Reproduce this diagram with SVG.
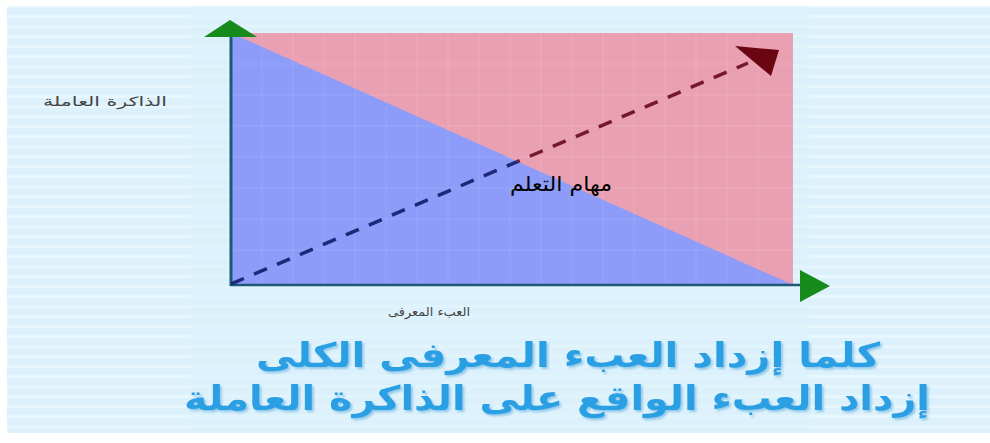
<svg xmlns="http://www.w3.org/2000/svg" width="990" height="443" viewBox="0 0 990 443">
<defs>
<style>
.ar{font-family:"DejaVu Sans","Noto Sans",sans-serif;}
.big{font-family:"DejaVu Sans","Noto Sans",sans-serif;font-weight:bold;font-size:34px;fill:#2b9fe3;filter:url(#shadow);}
.axis{stroke:#1f5877;stroke-width:3;fill:none;}
.grid{stroke:#ffffff;stroke-opacity:0.12;stroke-width:1;}
</style>
<filter id="shadow" x="-5%" y="-20%" width="110%" height="140%">
<feDropShadow dx="2" dy="2" stdDeviation="1" flood-color="#7fc0e6" flood-opacity="0.8"/>
</filter>
<pattern id="stripes" width="10" height="10" patternUnits="userSpaceOnUse">
<rect width="10" height="10" fill="#dcf1fb"/>
<rect y="5" width="10" height="3" fill="#e7f7fd"/>
</pattern>
<clipPath id="blueClip"><polygon points="231,33 793,285 231,285"/></clipPath>
<clipPath id="pinkClip"><polygon points="231,33 793,33 793,285"/></clipPath>
</defs>
<rect width="990" height="443" fill="#ffffff"/>
<rect x="7" y="6" width="983" height="427" fill="url(#stripes)"/>
<rect x="190" y="6" width="620" height="427" fill="#dcf1fb" opacity="0.6"/>

<g id="plot">
<rect x="231" y="33" width="562" height="252" fill="#eaa0b3"/>
<polygon points="231,33 793,285 231,285" fill="#8c9cf8"/>
<g class="grid">
<path d="M262 33V285M293 33V285M324 33V285M355 33V285M386 33V285M417 33V285M448 33V285M479 33V285M510 33V285M541 33V285M572 33V285M603 33V285M634 33V285M665 33V285M696 33V285M727 33V285M758 33V285"/>
<path d="M231 64H793M231 95H793M231 126H793M231 157H793M231 188H793M231 219H793M231 250H793"/>
</g>
</g>

<g id="connectors">
<g id="y-axis">
<line class="axis" x1="231" y1="36" x2="231" y2="286"/>
<polygon points="204,37 257,37 230,20" fill="#178a1c"/>
</g>
<g id="x-axis">
<line class="axis" x1="230" y1="285" x2="802" y2="285" style="stroke-width:2.5"/>
<polygon points="800,270 800,302 830,286" fill="#178a1c"/>
</g>
<g id="trend">
<line x1="231" y1="284" x2="748" y2="63" stroke="#1d2878" stroke-width="3.5" stroke-dasharray="14,11" clip-path="url(#blueClip)"/>
<line x1="231" y1="284" x2="748" y2="63" stroke="#741830" stroke-width="3.5" stroke-dasharray="14,11" clip-path="url(#pinkClip)"/>
<polygon points="735,46 779,50 771,76" fill="#6a0612"/>
</g>
</g>

<g id="label-tasks">
<text class="ar" x="612" y="191" font-size="20" fill="#000" text-anchor="start" direction="rtl" textLength="102" lengthAdjust="spacingAndGlyphs">مهام التعلم</text>
</g>
<g id="label-y">
<text class="ar" x="167" y="106" font-size="13" fill="#444" text-anchor="start" direction="rtl" textLength="124" lengthAdjust="spacingAndGlyphs">الذاكرة العاملة</text>
</g>
<g id="label-x">
<text class="ar" x="470" y="316" font-size="12" fill="#444" text-anchor="start" direction="rtl" textLength="82" lengthAdjust="spacingAndGlyphs">العبء المعرفى</text>
</g>

<g id="caption">
<text class="big" x="880" y="367" text-anchor="start" direction="rtl" textLength="624" lengthAdjust="spacingAndGlyphs">كلما إزداد العبء المعرفى الكلى</text>
<text class="big" x="930" y="410" text-anchor="start" direction="rtl" textLength="746" lengthAdjust="spacingAndGlyphs">إزداد العبء الواقع على الذاكرة العاملة</text>
</g>
</svg>
